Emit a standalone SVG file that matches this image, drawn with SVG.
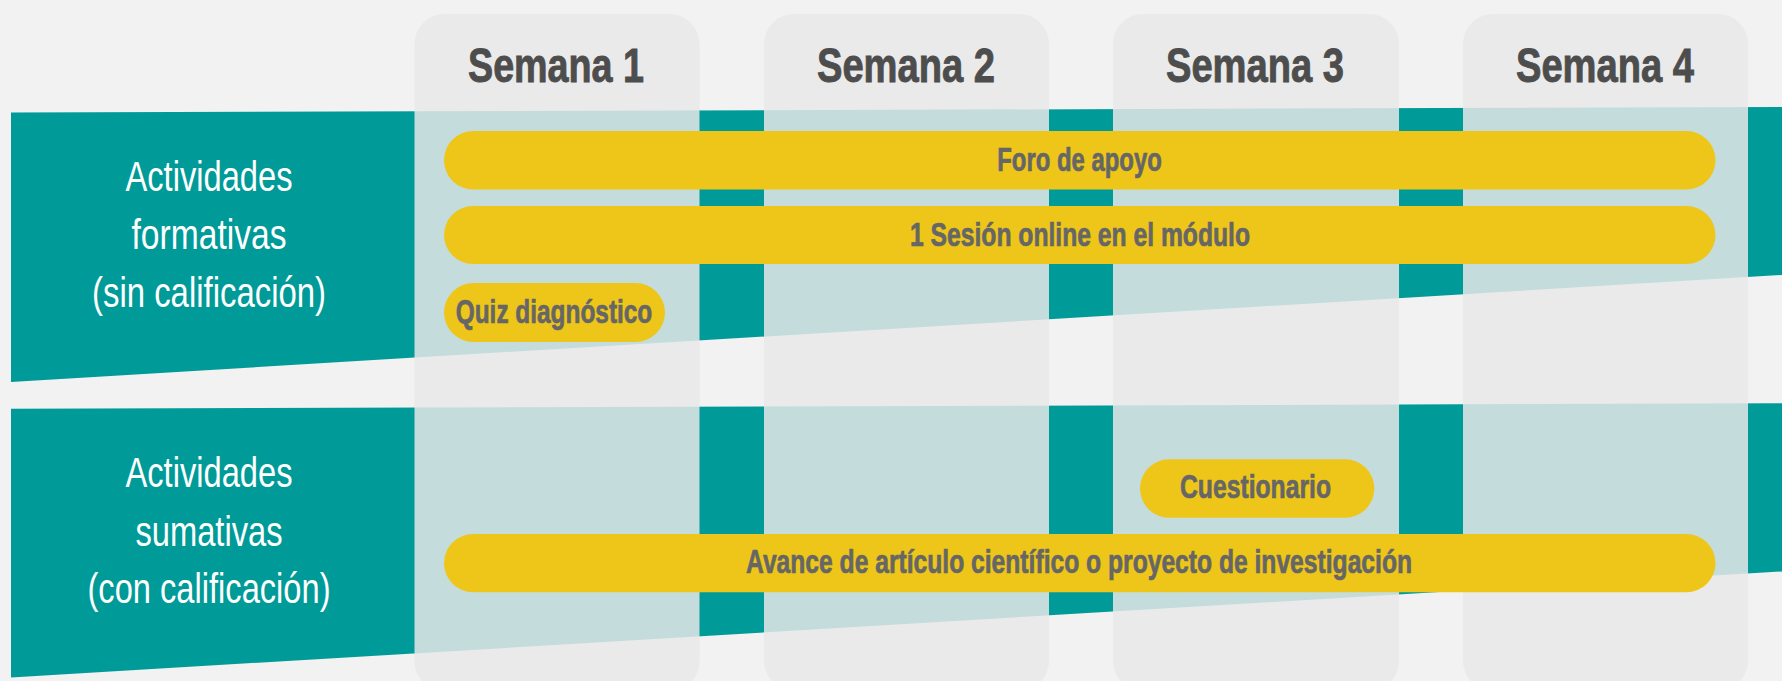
<svg xmlns="http://www.w3.org/2000/svg" width="1782" height="681" viewBox="0 0 1782 681">
  <style>
    .band { fill: #009b98; }
    .col { fill: #e8e8e8; fill-opacity: 0.845; }
    .pill { fill: #eec619; }
    .lbl { font-family: "Liberation Sans", Arial, sans-serif; font-size: 43px; fill: #ffffff; text-anchor: middle; }
    .hdr { font-family: "Liberation Sans", Arial, sans-serif; font-size: 49px; font-weight: bold; fill: #4d4d4d; stroke: #4d4d4d; stroke-width: 0.9; text-anchor: middle; }
    .ptx { font-family: "Liberation Sans", Arial, sans-serif; font-size: 33px; font-weight: bold; fill: #666666; stroke: #666666; stroke-width: 0.7; text-anchor: middle; }
  </style>
  <rect x="0" y="0" width="1782" height="681" fill="#f2f2f2"/>

  <g id="row-formativas">
    <polygon class="band" points="11,112.5 1782,107 1782,275 11,382"/>
    <text class="lbl" x="209" y="191" textLength="167" lengthAdjust="spacingAndGlyphs">Actividades</text>
    <text class="lbl" x="209" y="249" textLength="155" lengthAdjust="spacingAndGlyphs">formativas</text>
    <text class="lbl" x="209" y="306.5" textLength="234" lengthAdjust="spacingAndGlyphs">(sin calificación)</text>
  </g>

  <g id="row-sumativas">
    <polygon class="band" points="11,408.8 1782,403.3 1782,571.5 11,677.5"/>
    <text class="lbl" x="209" y="487.3" textLength="167" lengthAdjust="spacingAndGlyphs">Actividades</text>
    <text class="lbl" x="209" y="545.5" textLength="147" lengthAdjust="spacingAndGlyphs">sumativas</text>
    <text class="lbl" x="209" y="603" textLength="243" lengthAdjust="spacingAndGlyphs">(con calificación)</text>
  </g>

  <g id="semana-1">
    <rect class="col" x="414.5" y="14" width="285" height="677" rx="30" ry="30"/>
    <text class="hdr" x="556" y="82" textLength="176" lengthAdjust="spacingAndGlyphs">Semana 1</text>
  </g>
  <g id="semana-2">
    <rect class="col" x="764" y="14" width="285" height="677" rx="30" ry="30"/>
    <text class="hdr" x="906" y="82" textLength="178" lengthAdjust="spacingAndGlyphs">Semana 2</text>
  </g>
  <g id="semana-3">
    <rect class="col" x="1113" y="14" width="286" height="677" rx="30" ry="30"/>
    <text class="hdr" x="1255" y="82" textLength="178" lengthAdjust="spacingAndGlyphs">Semana 3</text>
  </g>
  <g id="semana-4">
    <rect class="col" x="1463" y="14" width="285" height="677" rx="30" ry="30"/>
    <text class="hdr" x="1605" y="82" textLength="178" lengthAdjust="spacingAndGlyphs">Semana 4</text>
  </g>

  <g id="foro-de-apoyo">
    <rect class="pill" x="444" y="131" width="1271.5" height="58.5" rx="29.25" ry="29.25"/>
    <text class="ptx" x="1079.5" y="170.7" textLength="164.5" lengthAdjust="spacingAndGlyphs">Foro de apoyo</text>
  </g>
  <g id="sesion-online">
    <rect class="pill" x="444" y="206" width="1271.5" height="58" rx="29" ry="29"/>
    <text class="ptx" x="1080" y="245.7" textLength="340" lengthAdjust="spacingAndGlyphs">1 Sesión online en el módulo</text>
  </g>
  <g id="quiz-diagnostico">
    <rect class="pill" x="444" y="283" width="221" height="59" rx="29.5" ry="29.5"/>
    <text class="ptx" x="554" y="323.3" textLength="196.5" lengthAdjust="spacingAndGlyphs">Quiz diagnóstico</text>
  </g>
  <g id="cuestionario">
    <rect class="pill" x="1140" y="459.3" width="234.3" height="58.4" rx="29.2" ry="29.2"/>
    <text class="ptx" x="1255.5" y="498.3" textLength="151" lengthAdjust="spacingAndGlyphs">Cuestionario</text>
  </g>
  <g id="avance-articulo">
    <rect class="pill" x="444" y="534" width="1271.5" height="58.3" rx="29.15" ry="29.15"/>
    <text class="ptx" x="1079" y="572.7" textLength="666" lengthAdjust="spacingAndGlyphs">Avance de artículo científico o proyecto de investigación</text>
  </g>

  <g id="connectors"/>
</svg>
